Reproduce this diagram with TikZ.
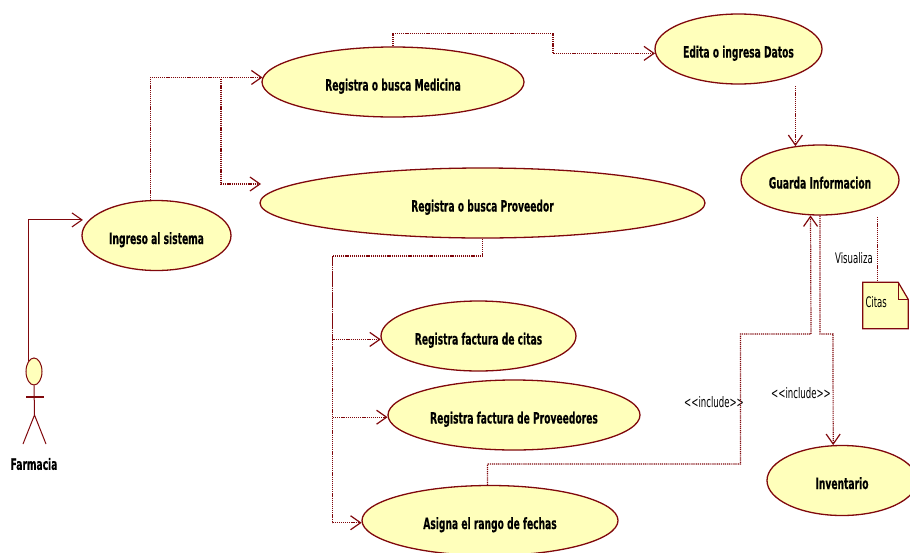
\documentclass[tikz,border=0pt]{standalone}
\usepackage{fontspec}
\setmainfont[FakeStretch=0.59,BoldFeatures={FakeBold=0.3}]{DejaVu Sans}
\usetikzlibrary{shapes.geometric,arrows.meta,backgrounds,calc}
\definecolor{rojoUml}{RGB}{128,8,12}
\definecolor{fondoUml}{RGB}{255,255,187}
\tikzset{
    caso/.style={ellipse, draw=rojoUml, fill=fondoUml, line width=1.3pt, inner ysep=0pt, inner xsep=-50pt, minimum height=70pt,
        text height=17pt, text depth=0pt, font=\fontsize{15.5}{15.5}\selectfont\bfseries},
    texto/.style={inner sep=0pt, font=\fontsize{14.5}{14.5}\selectfont},
    punta/.style={-{Straight Barb[length=10pt,width=14pt]}},
    flujo/.style={punta, draw=rojoUml, line width=1.2pt, dash pattern=on 1.2pt off 0.9pt},
    asociacion/.style={punta, draw=rojoUml, line width=1.1pt},
    figura/.style={draw=rojoUml, line width=1pt},
}
\begin{document}
\begin{tikzpicture}[x=1pt,y=-1pt]
        \useasboundingbox (0,0) rectangle (910,552);
        \node [caso, minimum width=149pt] (Ingreso) at (156.5,235.5) {Ingreso al sistema};
        \node [caso, minimum width=262pt] (Medicina) at (393,82) {Registra o busca Medicina};
        \node [caso, minimum width=445pt] (Proveedor) at (482.5,203) {Registra o busca Proveedor};
        \node [caso, minimum width=167pt] (Edita) at (738.5,49) {Edita o ingresa Datos};
        \node [caso, minimum width=158pt] (Guarda) at (820,180) {Guarda Informacion};
        \node [caso, minimum width=195pt] (FacCitas) at (478.5,336) {Registra factura de citas};
        \node [caso, minimum width=252pt] (FacProv) at (514,415) {Registra factura de Proveedores};
        \node [caso, minimum width=256pt] (Asigna) at (490,520.5) {Asigna el rango de fechas};
        \node [caso, minimum width=150pt] (Inventario) at (842,480.5) {Inventario};

        \node [ellipse, draw=rojoUml, fill=fondoUml, line width=1pt, inner sep=0pt, minimum width=16pt, minimum height=27pt] (Cabeza) at (34,371.5) {};
        \coordinate (Cadera) at (34.5,415);
        \node [inner sep=0pt, font=\fontsize{15.5}{15.5}\selectfont\bfseries] (Farmacia) at (34,464) {Farmacia};
        \draw [figura] (Cabeza.south) -- (Cadera);
        \draw [figura, line width=1.3pt] (26,397) -- (44,397);
        \draw [figura] (23,444) -- (Cadera) -- (46,444);

        \node [texto, minimum width=45pt, minimum height=46pt, align=left, text width=40pt] (Citas) at (885.5,305.5) {\raisebox{8pt}{Citas}};
        \begin{scope}[on background layer]
        \draw [figura, line width=1.2pt, fill=fondoUml] (Citas.north west) -- ($(Citas.north east)+(-10,0)$) -- ($(Citas.north east)+(0,17)$) -- (Citas.south east) -- (Citas.south west) -- cycle;
        \draw [figura, line width=1.2pt] ($(Citas.north east)+(-10,0)$) -- ($(Citas.north east)+(-10,17)$) -- ($(Citas.north east)+(0,17)$);
        \end{scope}

        \node [texto] (Visualiza) at (854,258) {Visualiza};
        \node [texto] (IncluyeA) at (714,402) {{<}{<}include{>}{>}};
        \node [texto] (IncluyeB) at (801,393) {{<}{<}include{>}{>}};

        \coordinate (Codo) at (221,79);
        \coordinate (ProvEntra) at (261,184);
        \coordinate (EditaSale) at (Guarda.126 |- 0,86);
        \coordinate (CitasSale) at (877.5,217);

        \draw [asociacion, shorten >=6pt] (Cabeza.120) |- (Ingreso.167);
        \draw [flujo] (Ingreso.100.5) |- (Medicina.178.7);
        \draw [flujo] (Codo) |- (ProvEntra);
        \draw [flujo] (Medicina.north) |- (553,33.5) |- (Edita.183);
        \draw [flujo] (EditaSale) -- (Guarda.126);
        \draw [flujo] (Proveedor.south) |- (332.5,256) |- (FacCitas.182.3);
        \draw [flujo] (332.5,256) |- (FacProv.181.7);
        \draw [flujo] (332.5,256) |- (Asigna.181.1);
        \draw [flujo] (Asigna.94.9) |- (740.5,464) |- (811,334) -- (Guarda.255.5);
        \draw [flujo] (Guarda.south) |- (833,334) -- (Inventario.104.4);
        \draw [draw=rojoUml, line width=1.2pt, dash pattern=on 1.2pt off 0.9pt] (CitasSale) -- (CitasSale |- Citas.north);
    \end{tikzpicture}
\end{document}
